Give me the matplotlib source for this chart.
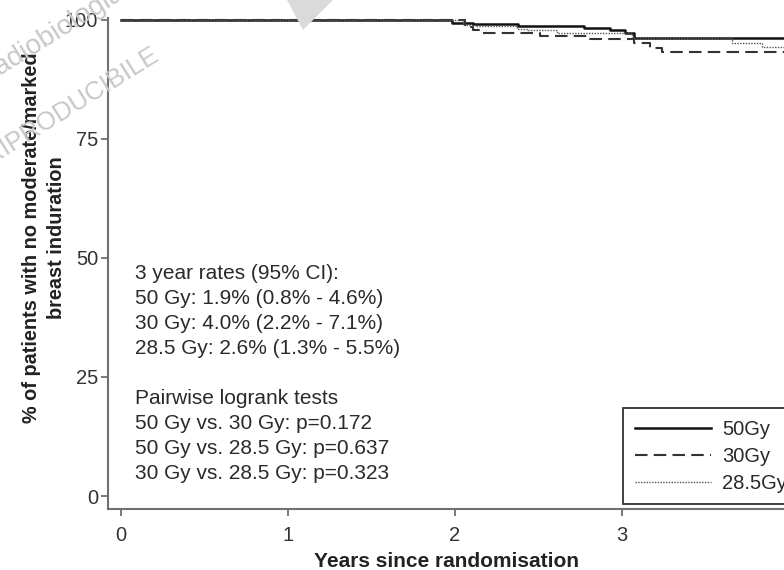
import matplotlib
matplotlib.use("Agg")
from matplotlib import pyplot as plt
from matplotlib.patches import Polygon
from matplotlib.lines import Line2D

plt.rcParams['font.family'] = ['Liberation Sans', 'DejaVu Sans']

W, H = 784, 570

# Kaplan-Meier steps (years, % without induration)
t_50 = [0, 1.98, 2.11, 2.38, 2.77, 2.93, 3.02, 3.07, 4.0]
s_50 = [100, 99.4, 99.1, 98.8, 98.4, 97.9, 97.2, 96.2, 96.2]

t_30 = [0, 2.06, 2.11, 2.15, 2.51, 2.81, 3.07, 3.17, 3.24, 4.0]
s_30 = [100, 98.6, 97.9, 97.2, 96.6, 96.0, 95.1, 94.1, 93.3, 93.3]

t_285 = [0, 2.05, 2.12, 2.37, 2.44, 2.61, 3.06, 3.66, 3.84, 4.0]
s_285 = [100, 99.0, 98.8, 98.0, 97.8, 97.3, 96.2, 95.1, 94.3, 94.3]

labels = ["50Gy", "30Gy", "28.5Gy"]
x_ticks = [0, 1, 2, 3]
y_ticks = [0, 25, 50, 75, 100]

note = ("3 year rates (95% CI):\n"
        "50 Gy: 1.9% (0.8% - 4.6%)\n"
        "30 Gy: 4.0% (2.2% - 7.1%)\n"
        "28.5 Gy: 2.6% (1.3% - 5.5%)\n"
        "\n"
        "Pairwise logrank tests\n"
        "50 Gy vs. 30 Gy: p=0.172\n"
        "50 Gy vs. 28.5 Gy: p=0.637\n"
        "30 Gy vs. 28.5 Gy: p=0.323")

fig = plt.figure(figsize=(W / 100, H / 100), dpi=100)

# watermark bits (cut by the picture edge, as in the scan)
fig.patches.append(Polygon([(287 / W, 1), (303 / W, 1 - 30 / H), (333 / W, 1)],
                           closed=True, transform=fig.transFigure,
                           facecolor="#dadada", edgecolor="none", zorder=0))
fig.text(-8 / W, 1 - 80 / H, "radiobiologia", rotation=32, fontsize=20,
         color="#c8c8c8", ha="left", va="baseline", rotation_mode="anchor",
         zorder=0)
fig.text(160 / W, 1 - 60 / H, "NON RIPRODUCIBILE", rotation=32, fontsize=18.5,
         color="#c8c8c8", ha="right", va="baseline", rotation_mode="anchor",
         zorder=0)

ax = fig.add_axes([108 / W, 61 / H, (W - 108) / W, (509 - 18) / H])
ax.patch.set_alpha(0)

ax.step(t_50, s_50, where="post", color="#111111", lw=1.8)
ax.step(t_30, s_30, where="post", color="#333333", lw=1.5, linestyle=(0, (6, 3)))
ax.step(t_285, s_285, where="post", color="#555555", lw=1.0, linestyle=(0, (1, 1)))

ax.set_xlim(-0.078, 3.97)
ax.set_ylim(-2.73, 100.4)
ax.set_xticks(x_ticks)
ax.set_yticks(y_ticks)

for side in ["top", "right"]:
    ax.spines[side].set_visible(False)
for side in ["left", "bottom"]:
    ax.spines[side].set_color("#707070")
    ax.spines[side].set_linewidth(1.5)
ax.tick_params(colors="#707070", labelcolor="#333333", labelsize=14.5,
               length=5, width=1.3, pad=2)
ax.tick_params(axis="x", pad=7)

ax.set_xlabel("Years since randomisation", fontsize=15, fontweight="bold",
              color="#222222", labelpad=5)
ax.set_ylabel("% of patients with no moderate/marked\nbreast induration",
              fontsize=14.3, fontweight="bold", color="#222222",
              linespacing=1.4)
ax.yaxis.set_label_coords(-0.062, 0.553)

ax.text(135 / W, 1 - 264 / H, note, transform=fig.transFigure, fontsize=15,
        color="#2a2a2a", va="top", ha="left", linespacing=1.4)

handles = [Line2D([], [], color="#111111", lw=1.8),
           Line2D([], [], color="#333333", lw=1.5, linestyle=(0, (6, 3))),
           Line2D([], [], color="#555555", lw=1.0, linestyle=(0, (1, 1)))]
leg = fig.legend(handles, labels, loc="upper left",
                 bbox_to_anchor=(623 / W, 1 - 408 / H), fontsize=14.5,
                 frameon=True, fancybox=False, edgecolor="black",
                 handlelength=3.8, handletextpad=0.55, labelspacing=0.4,
                 borderpad=0.58, borderaxespad=0)
leg.get_frame().set_linewidth(1.3)
for txt in leg.get_texts():
    txt.set_color("#2a2a2a")

fig.savefig("out.png", dpi=100)
